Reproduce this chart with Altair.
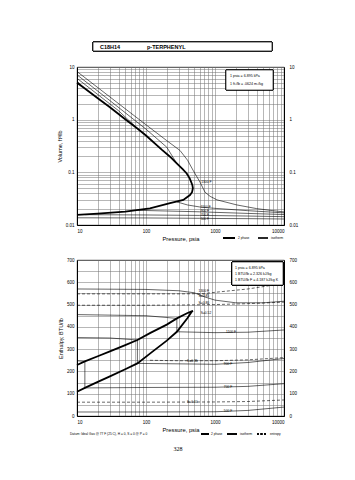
import altair as alt
import pandas as pd

# ---------------- Volume chart data ----------------
vol_sat_P = [10, 13, 20, 30, 50, 75, 100, 169, 223, 279, 340, 389, 430, 459, 470, 478,
             465, 434, 347, 223, 114, 50, 20, 10]
vol_sat_V = [5.0, 3.9, 2.55, 1.72, 1.02, 0.68, 0.50, 0.27, 0.198, 0.148, 0.115, 0.095, 0.077, 0.062, 0.057, 0.050,
             0.042, 0.037, 0.030, 0.026, 0.0207, 0.018, 0.0165, 0.0155]

vol_iso = {
    "1300 F": ([10, 30, 100, 200, 311, 400, 480, 607, 716, 850, 1069, 2084, 4000, 6264, 10000],
               [8.2, 2.7, 0.80, 0.40, 0.26, 0.17, 0.11, 0.065, 0.042, 0.035, 0.030, 0.024, 0.0205, 0.019, 0.0177]),
    "1100 F v": ([10, 30, 100, 200, 279], [7.1, 2.3, 0.66, 0.30, 0.148]),
    "1100 F l": ([279, 400, 600, 1000, 3000, 10000], [0.0275, 0.024, 0.0220, 0.0207, 0.0187, 0.0170]),
    "900 F v": ([10, 20, 40, 75], [6.1, 3.0, 1.48, 0.68]),
    "900 F l": ([75, 300, 600, 1000, 3000, 10000], [0.019, 0.0182, 0.0178, 0.0174, 0.0166, 0.0158]),
    "700 F v": ([10, 13], [5.4, 3.9]),
    "700 F l": ([13, 100, 600, 1000, 3000, 10000], [0.0157, 0.0155, 0.0152, 0.0151, 0.0148, 0.0144]),
    "500 F l": ([10, 100, 600, 1000, 3000, 10000], [0.0137, 0.0136, 0.0134, 0.0133, 0.0132, 0.0130]),
}
vol_lab_text = ["1300 F", "1100 F", "900 F", "700 F", "500 F"]
vol_lab_P = [610, 600, 600, 600, 600]
vol_lab_V = [0.065, 0.0222, 0.0182, 0.0153, 0.0128]

# ---------------- Enthalpy chart data ----------------
h_sat_P = [10, 13, 20, 30, 50, 75, 114, 200, 280, 400, 478,
           460, 400, 280, 200, 114, 75, 50, 30, 20, 13, 10]
h_sat_H = [229, 245, 268, 290, 318, 341, 372, 410, 438, 462, 472,
           468, 440, 378, 338, 280, 236, 210, 178, 153, 126, 109]

h_iso = {
    "1300 F": ([10, 100, 300, 500, 700, 1000, 2000, 5000, 10000],
               [570, 568, 562, 553, 535, 520, 508, 508, 515]),
    "1100 F": ([10, 100, 280, 280, 1000, 3000, 10000], [455, 450, 438, 378, 374, 376, 386]),
    "900 F": ([10, 30, 75, 75, 300, 1000, 3000, 10000], [352, 350, 341, 236, 234, 232, 240, 258]),
    "700 F": ([10, 13, 13, 100, 1000, 3000, 10000], [248, 245, 126, 128, 129, 133, 145]),
    "500 F": ([10, 100, 1000, 3000, 10000], [18, 18, 19, 25, 40]),
}
h_ent = {
    "S=0.85": ([10, 100, 300, 700, 1000, 3000, 10000], [548, 548, 548, 549, 555, 570, 595]),
    "S=0.80": ([10, 100, 300, 1000, 3000, 10000], [497, 497, 498, 500, 504, 511]),
    "S=0.35": ([114, 300, 1000, 3000, 10000], [250, 248, 248, 252, 262]),
    "S=0.10": ([10, 100, 1000, 3000, 10000], [62, 62, 63, 65, 72]),
}
h_lab_text = ["1300 F", "S=0.85", "S=0.80", "S=0.52", "1100 F", "S=0.35", "900 F", "700 F", "S=0.10", "500 F"]
h_lab_P = [560, 560, 560, 600, 1400, 380, 1300, 1300, 380, 1300]
h_lab_H = [560, 540, 505, 462, 376, 247, 234, 131, 63, 22]

x_vals = [m * 10 ** e for e in (1, 2, 3) for m in range(1, 10)] + [10000]
yv_vals = [round(m * 10.0 ** e, 4) for e in (-2, -1, 0) for m in range(1, 10)] + [10]
yh_vals = list(range(0, 701, 50))


def long_df(d):
    rows = []
    for name, (xs, ys) in d.items():
        for i, (a, b) in enumerate(zip(xs, ys)):
            rows.append({"s": name, "i": i, "P": a, "v": b})
    return pd.DataFrame(rows)


FONT = "Liberation Sans"
GRID = "#6f6f6f"

xscale = alt.Scale(type="log", domain=[10, 10000], nice=False)
xaxis = alt.Axis(values=x_vals, grid=True, gridColor=GRID, gridWidth=0.5, ticks=False,
                 labelExpr="indexof([10,100,1000,10000], datum.value) >= 0 ? format(datum.value, 'd') : ''",
                 labelFontSize=4.5, labelPadding=3, title="Pressure,  psia", titleFontSize=5.8,
                 titleFontWeight="normal", titlePadding=3, domainColor="black", labelFont=FONT, titleFont=FONT)
X = alt.X("P:Q", scale=xscale, axis=xaxis)

# ---------------- Volume chart ----------------
vscale = alt.Scale(type="log", domain=[0.01, 10], nice=False)
vexpr = "datum.value==0.01?'0.01':datum.value==0.1?'0.1':datum.value==1?'1':datum.value==10?'10':''"
v_left = alt.Axis(values=yv_vals, grid=True, gridColor=GRID, gridWidth=0.5, ticks=False, labelExpr=vexpr,
                  labelFontSize=4.5, labelPadding=3, title="Volume, ft³/lb", titleFontSize=5.5,
                  titleFontWeight="normal", titlePadding=3, domainColor="black", labelFont=FONT, titleFont=FONT)
v_right = alt.Axis(values=[0.01, 0.1, 1, 10], grid=False, ticks=False, labelExpr=vexpr, orient="right",
                   labelFontSize=4.5, labelPadding=5, title=None, domainColor="black", labelFont=FONT)

df_vi = long_df(vol_iso)
df_vs = pd.DataFrame({"P": vol_sat_P, "v": vol_sat_V, "i": range(len(vol_sat_P))})
df_vl = pd.DataFrame({"P": vol_lab_P, "v": vol_lab_V, "t": vol_lab_text})

v_iso = alt.Chart(df_vi).mark_line(color="black", strokeWidth=0.6).encode(
    x=X, y=alt.Y("v:Q", scale=vscale, axis=v_left), detail="s:N", order="i:Q")
v_sat = alt.Chart(df_vs).mark_line(color="black", strokeWidth=1.8).encode(
    x=X, y=alt.Y("v:Q", scale=vscale, axis=None), order="i:Q")
v_rax = alt.Chart(df_vs).mark_point(opacity=0).encode(
    x=X, y=alt.Y("v:Q", scale=vscale, axis=v_right))
v_lab = alt.Chart(df_vl).mark_text(fontSize=3.3, font=FONT, align="left", dx=1).encode(
    x=X, y=alt.Y("v:Q", scale=vscale, axis=None), text="t:N")

v_box = alt.Chart(df_vl).mark_rect(fill="white", stroke="black", strokeWidth=0.6).encode(
    x=alt.value(149), x2=alt.value(196), y=alt.value(3), y2=alt.value(23))
v_box_t = alt.Chart(pd.DataFrame({"t": ["1 psia  =  6.895 kPa", "1 ft³/lb  =  .0624 m³/kg"], "yy": [9, 17]})
                    ).mark_text(fontSize=3.6, font=FONT, align="left").encode(
    x=alt.value(153), y=alt.Y("yy:Q", scale=None), text="t:N")

title_box = alt.Chart(df_vl).mark_rect(fill="white", stroke="black", strokeWidth=0.7).encode(
    x=alt.value(16), x2=alt.value(195), y=alt.value(-25), y2=alt.value(-16))
title_t = alt.Chart(pd.DataFrame({"t": ["C18H14", "p-TERPHENYL"], "xx": [23, 70]})).mark_text(
    fontSize=5.5, font=FONT, fontWeight="bold", align="left").encode(
    x=alt.X("xx:Q", scale=None), y=alt.value(-20.5), text="t:N")

v_leg_thick = alt.Chart(df_vl).mark_rule(color="black", strokeWidth=1.6).encode(
    x=alt.value(146), x2=alt.value(158), y=alt.value(171))
v_leg_thin = alt.Chart(df_vl).mark_rule(color="black", strokeWidth=0.6).encode(
    x=alt.value(181), x2=alt.value(191), y=alt.value(171))
v_leg_t = alt.Chart(pd.DataFrame({"t": ["2 phase", "isotherm"], "xx": [161, 194]})).mark_text(
    fontSize=3.2, font=FONT, align="left").encode(
    x=alt.X("xx:Q", scale=None), y=alt.value(171), text="t:N")

top = alt.layer(v_iso, v_sat, v_rax, v_lab, v_box, v_box_t, title_box, title_t,
                v_leg_thick, v_leg_thin, v_leg_t).resolve_axis(y="independent").properties(width=207, height=158)

# ---------------- Enthalpy chart ----------------
hscale = alt.Scale(domain=[0, 700], nice=False)
hexpr = "datum.value % 100 == 0 ? format(datum.value, 'd') : ''"
h_left = alt.Axis(values=yh_vals, grid=True, gridColor=GRID, gridWidth=0.5, ticks=False, labelExpr=hexpr,
                  labelFontSize=4.5, labelPadding=3, title="Enthalpy, BTU/lb", titleFontSize=5.5,
                  titleFontWeight="normal", titlePadding=3, domainColor="black", labelFont=FONT, titleFont=FONT)
h_right = alt.Axis(values=list(range(0, 701, 100)), grid=False, ticks=False, orient="right", format="d",
                   labelFontSize=4.5, labelPadding=5, title=None, domainColor="black", labelFont=FONT)

df_hi = long_df(h_iso)
df_he = long_df(h_ent)
df_hs = pd.DataFrame({"P": h_sat_P, "v": h_sat_H, "i": range(len(h_sat_P))})
df_hl = pd.DataFrame({"P": h_lab_P, "v": h_lab_H, "t": h_lab_text})

h_isol = alt.Chart(df_hi).mark_line(color="black", strokeWidth=0.6).encode(
    x=X, y=alt.Y("v:Q", scale=hscale, axis=h_left), detail="s:N", order="i:Q")
h_entl = alt.Chart(df_he).mark_line(color="black", strokeWidth=0.6, strokeDash=[3, 2]).encode(
    x=X, y=alt.Y("v:Q", scale=hscale, axis=None), detail="s:N", order="i:Q")
h_sat = alt.Chart(df_hs).mark_line(color="black", strokeWidth=1.8).encode(
    x=X, y=alt.Y("v:Q", scale=hscale, axis=None), order="i:Q")
h_rax = alt.Chart(df_hs).mark_point(opacity=0).encode(
    x=X, y=alt.Y("v:Q", scale=hscale, axis=h_right))
h_lab = alt.Chart(df_hl).mark_text(fontSize=3.3, font=FONT, align="left", dx=1).encode(
    x=X, y=alt.Y("v:Q", scale=hscale, axis=None), text="t:N")

h_box = alt.Chart(df_hl).mark_rect(fill="white", stroke="black", strokeWidth=0.6).encode(
    x=alt.value(155), x2=alt.value(206), y=alt.value(2), y2=alt.value(25))
h_box_t = alt.Chart(pd.DataFrame({"t": ["1 psia  =  6.895 kPa", "1 BTU/lb  =  2.326 kJ/kg",
                                        "1 BTU/lb F  =  4.187 kJ/kg K"], "yy": [8, 14, 20]})
                    ).mark_text(fontSize=3.6, font=FONT, align="left").encode(
    x=alt.value(158), y=alt.Y("yy:Q", scale=None), text="t:N")

h_leg_thick = alt.Chart(df_hl).mark_rule(color="black", strokeWidth=1.6).encode(
    x=alt.value(124), x2=alt.value(132), y=alt.value(174))
h_leg_thin = alt.Chart(df_hl).mark_rule(color="black", strokeWidth=0.6).encode(
    x=alt.value(150), x2=alt.value(160), y=alt.value(174))
h_leg_dash = alt.Chart(df_hl).mark_rule(color="black", strokeWidth=0.6, strokeDash=[2, 1.5]).encode(
    x=alt.value(180), x2=alt.value(190), y=alt.value(174))
h_leg_t = alt.Chart(pd.DataFrame({"t": ["2 phase", "isotherm", "entropy"], "xx": [134, 163, 193]})).mark_text(
    fontSize=3.2, font=FONT, align="left").encode(
    x=alt.X("xx:Q", scale=None), y=alt.value(174), text="t:N")
datum_t = alt.Chart(pd.DataFrame({"t": ["Datum: Ideal Gas @ 77 F (25 C),  H = 0,  S = 0 @ P = 0"]})).mark_text(
    fontSize=3.2, font=FONT, align="left").encode(x=alt.value(-7), y=alt.value(174), text="t:N")
page_t = alt.Chart(pd.DataFrame({"t": ["328"]})).mark_text(
    fontSize=6, font="Liberation Serif").encode(x=alt.value(101), y=alt.value(189), text="t:N")

bottom = alt.layer(h_isol, h_entl, h_sat, h_rax, h_lab, h_box, h_box_t, h_leg_thick, h_leg_thin,
                   h_leg_dash, h_leg_t, datum_t, page_t).resolve_axis(y="independent").properties(width=207, height=156)

chart = alt.vconcat(top, bottom, spacing=35, bounds="flush").properties(
    autosize=alt.AutoSizeParams(type="none"),
    padding={"left": 77, "top": 67, "right": 71, "bottom": 413},
    background="white",
).configure_view(stroke="black", strokeWidth=0.8)

chart.save("out.html", embed_options={"renderer": "svg", "actions": False})
